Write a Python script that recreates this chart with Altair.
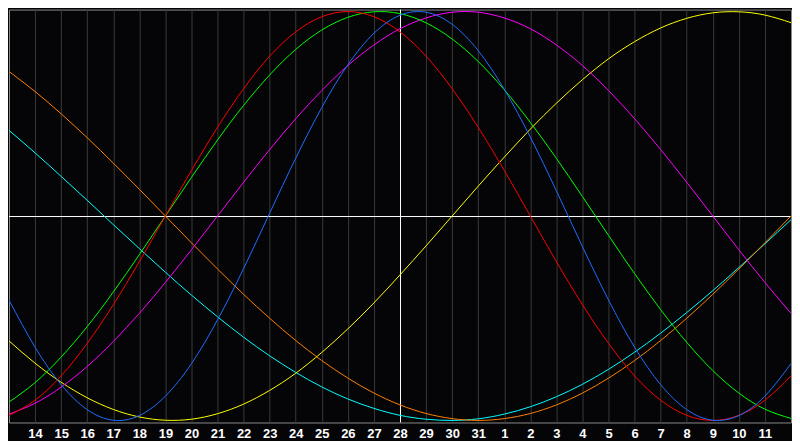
import altair as alt
import pandas as pd

# day offsets from the 13th (left edge) to the 12th of the next month (right edge)
days = list(range(31))
day_labels = ["14", "15", "16", "17", "18", "19", "20", "21", "22", "23", "24", "25",
              "26", "27", "28", "29", "30", "31", "1", "2", "3", "4", "5", "6", "7",
              "8", "9", "10", "11"]
today_offset = 15  # the 28th

physical = [-0.411, -0.642, -0.825, -0.947, -0.999, -0.976, -0.881, -0.722, -0.508, -0.257,
            0.014, 0.283, 0.531, 0.740, 0.894, 0.982, 0.997, 0.938, 0.809, 0.620,
            0.386, 0.123, -0.150, -0.411, -0.642, -0.825, -0.947, -0.999, -0.976, -0.881, -0.722]
emotional = [-0.975, -0.901, -0.782, -0.623, -0.434, -0.223, 0.0, 0.223, 0.434, 0.623,
             0.782, 0.901, 0.975, 1.0, 0.975, 0.901, 0.782, 0.623, 0.434, 0.223,
             0.0, -0.223, -0.434, -0.623, -0.782, -0.901, -0.975, -1.0, -0.975, -0.901, -0.782]
intellectual = [-0.910, -0.815, -0.690, -0.541, -0.372, -0.189, 0.0, 0.189, 0.372, 0.541,
                0.690, 0.815, 0.910, 0.972, 0.999, 0.990, 0.945, 0.866, 0.756, 0.618,
                0.458, 0.282, 0.095, -0.095, -0.282, -0.458, -0.618, -0.756, -0.866, -0.945, -0.990]
intuitive = [-0.969, -0.916, -0.837, -0.736, -0.614, -0.476, -0.325, -0.165, 0.0, 0.165,
             0.325, 0.476, 0.614, 0.736, 0.837, 0.916, 0.969, 0.997, 0.997, 0.969,
             0.916, 0.837, 0.736, 0.614, 0.476, 0.325, 0.165, 0.0, -0.165, -0.325, -0.476]
aesthetic = [-0.611, -0.720, -0.813, -0.889, -0.946, -0.983, -0.999, -0.994, -0.967, -0.920,
             -0.853, -0.769, -0.667, -0.552, -0.425, -0.288, -0.146, 0.0, 0.146, 0.288,
             0.425, 0.552, 0.667, 0.769, 0.853, 0.920, 0.967, 0.994, 0.999, 0.983, 0.946]
awareness = [0.707, 0.609, 0.5, 0.383, 0.259, 0.131, 0.0, -0.131, -0.259, -0.383,
             -0.5, -0.609, -0.707, -0.793, -0.866, -0.924, -0.966, -0.991, -1.0, -0.991,
             -0.966, -0.924, -0.866, -0.793, -0.707, -0.609, -0.5, -0.383, -0.259, -0.131, 0.0]
spiritual = [0.419, 0.309, 0.194, 0.077, -0.042, -0.159, -0.275, -0.387, -0.493, -0.593,
             -0.684, -0.765, -0.836, -0.895, -0.941, -0.975, -0.994, -1.0, -0.992, -0.969,
             -0.933, -0.884, -0.823, -0.750, -0.666, -0.573, -0.472, -0.365, -0.252, -0.136, -0.018]

series_names = ["spiritual", "awareness", "aesthetic", "intuitive", "intellectual", "emotional", "physical"]
series_values = [spiritual, awareness, aesthetic, intuitive, intellectual, emotional, physical]
series_colors = ["#00ffff", "#ff8000", "#ffff00", "#ff00ff", "#00ff00", "#ff0000", "#1e6eff"]

rows = []
for name, vals in zip(series_names, series_values):
    for d, v in zip(days, vals):
        rows.append({"day": d, "value": v, "series": name})
df = pd.DataFrame(rows)

x_scale = alt.Scale(domain=[0, 30], nice=False, zero=False)
y_scale = alt.Scale(domain=[-1.01, 1.01], nice=False, zero=False)

label_array = "[" + ",".join("'" + s + "'" for s in day_labels) + "]"

x_axis = alt.Axis(
    values=list(range(1, 30)),
    labelExpr=label_array + "[datum.value - 1]",
    grid=True, gridColor="#3a3a3a", gridWidth=1,
    domain=False, ticks=False, title=None,
    labelColor="#ffffff", labelFont="Liberation Sans", labelFontSize=13,
    labelFontWeight="bold", labelPadding=5, labelAngle=0,
    labelOverlap=False, minExtent=18, maxExtent=18,
)

base = alt.Chart(df)

lines = base.mark_line(strokeWidth=1, interpolate="natural", clip=True).encode(
    x=alt.X("day:Q", scale=x_scale, axis=x_axis),
    y=alt.Y("value:Q", scale=y_scale, axis=None),
    color=alt.Color("series:N", scale=alt.Scale(domain=series_names, range=series_colors), legend=None),
    detail="series:N",
)

zero_df = pd.DataFrame({"v": [0.0]})
hline = alt.Chart(zero_df).mark_rule(color="#ffffff", strokeWidth=1, yOffset=0.5).encode(
    y=alt.Y("v:Q", scale=y_scale, axis=None)
)
today_df = pd.DataFrame({"d": [today_offset]})
vline = alt.Chart(today_df).mark_rule(color="#ffffff", strokeWidth=1, xOffset=0.5).encode(
    x=alt.X("d:Q", scale=x_scale, axis=x_axis)
)

chart = alt.layer(hline, vline, lines).properties(
    width=784, height=414, padding=0, background="#050508"
).configure_view(stroke="#8a8a8a", strokeWidth=1)

chart.save("out.html", embed_options={"renderer": "svg", "actions": False})
